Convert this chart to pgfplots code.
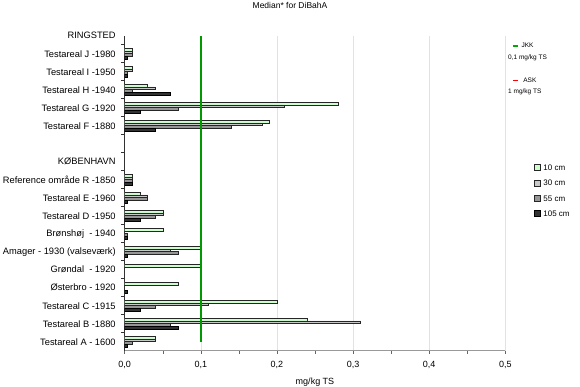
\documentclass[border=0pt]{standalone}
\usepackage{fontspec}
\setmainfont{Liberation Sans}
\usepackage{pgfplots}
\pgfplotsset{compat=1.18}
\definecolor{cTen}{HTML}{CCFFCC}
\definecolor{cThirty}{HTML}{C8C8C8}
\definecolor{cFiftyFive}{HTML}{969696}
\definecolor{cHundred}{HTML}{333333}
\definecolor{jkk}{RGB}{0,153,0}
\definecolor{gridc}{HTML}{E2E2E2}
\definecolor{axisc}{HTML}{999999}
\begin{document}
\begin{tikzpicture}
\path[use as bounding box] (-124.7pt,-36.3pt) rectangle (455.3pt,350.7pt);
\begin{axis}[
  at={(0pt,0pt)}, anchor=south west,
  scale only axis, width=380.6pt, height=315pt,
  xmin=0, xmax=0.5, ymin=-0.5, ymax=17,
  axis x line*=bottom, axis y line*=left,
  x axis line style={axisc, line width=1.3pt},
  y axis line style={black!80, line width=0.6pt},
  xtick={0,0.1,0.2,0.3,0.4,0.5},
  xticklabels={{0,0},{0,1},{0,2},{0,3},{0,4},{0,5}},
  minor xtick={0.05,0.15,0.25,0.35,0.45},
  ytick={0,...,17},
  yticklabels={Testareal A - 1600, Testareal B -1880, Testareal C -1915, Østerbro - 1920, Grøndal \ - 1920, Amager - 1930 (valseværk), Brønshøj \ - 1940, Testareal D -1950, Testareal E -1960, Reference område R -1850, KØBENHAVN, {}, Testareal F -1880, Testareal G -1920, Testareal H -1940, Testareal I -1950, Testareal J -1980, RINGSTED},
  minor ytick={0.5,1.5,2.5,3.5,4.5,5.5,6.5,7.5,8.5,9.5,10.5,11.5,12.5,13.5,14.5,15.5,16.5},
  tick align=outside,
  major tick length=3.5pt, minor tick length=3.5pt,
  major y tick style={draw=none},
  minor y tick style={black!80, line width=0.5pt},
  major x tick style={black!60, line width=0.5pt},
  minor x tick style={black!60, line width=0.5pt},
  xmajorgrids,
  major x grid style={gridc, line width=0.6pt},
  yticklabel style={font=\fontsize{9.3}{11}\selectfont, xshift=-2pt},
  xticklabel style={font=\fontsize{9}{11}\selectfont, yshift=-3pt},
  xlabel={mg/kg TS},
  xlabel style={font=\fontsize{9}{11}\selectfont, at={(axis description cs:0.5,0)}, anchor=center, yshift=-31pt},
  legend image code/.code={\draw[#1] (0pt,-3pt) rectangle (6pt,3pt); \path[draw=none,fill=none] (0pt,0pt) -- (9pt,0pt);},
  legend style={at={(1.0754,0.5927)}, anchor=north west, draw=none, fill=none,
    font=\fontsize{8}{9.6}\selectfont, inner sep=0pt, row sep=9pt,
    nodes={inner sep=0pt, text height=6pt, text depth=0pt}},
  legend cell align=left,
]
\addplot[xbar, bar width=2.7pt, bar shift=4.05pt, fill=cTen, draw=black!85, line width=0.4pt] coordinates {
(0.04,0) (0.24,1) (0.20,2) (0.07,3) (0.10,4) (0.10,5) (0.05,6) (0.05,7) (0.02,8) (0.01,9) (0.19,12) (0.28,13) (0.03,14) (0.01,15) (0.01,16)};
\addlegendentry{10 cm}
\addplot[xbar, bar width=2.7pt, bar shift=1.35pt, fill=cThirty, draw=black!85, line width=0.4pt] coordinates {
(0.04,0) (0.31,1) (0.11,2) (0.06,5) (0.05,7) (0.03,8) (0.01,9) (0.18,12) (0.21,13) (0.04,14) (0.01,15) (0.01,16)};
\addlegendentry{30 cm}
\addplot[xbar, bar width=2.7pt, bar shift=-1.35pt, fill=cFiftyFive, draw=black!85, line width=0.4pt] coordinates {
(0.01,0) (0.06,1) (0.04,2) (0.07,5) (0.003,6) (0.04,7) (0.03,8) (0.01,9) (0.14,12) (0.07,13) (0.01,14) (0.003,15) (0.01,16)};
\addlegendentry{55 cm}
\addplot[xbar, bar width=2.7pt, bar shift=-4.05pt, fill=cHundred, draw=black, line width=0.4pt] coordinates {
(0.003,0) (0.07,1) (0.02,2) (0.003,3) (0.003,5) (0.003,6) (0.02,7) (0.003,8) (0.01,9) (0.04,12) (0.02,13) (0.06,14) (0.003,15) (0.003,16)};
\addlegendentry{105 cm}
\addplot[jkk, line width=2.4pt, sharp plot, forget plot] coordinates {(0.1,0) (0.1,17)};
\end{axis}
\begin{axis}[
  at={(0pt,0pt)}, anchor=south west,
  scale only axis, width=380.6pt, height=315pt,
  xmin=0, xmax=0.5, ymin=-0.5, ymax=17,
  hide axis,
  legend image code/.code={\draw[#1] (0pt,0pt) -- (5pt,0pt); \path[draw=none,fill=none] (0pt,0pt) -- (8.7pt,0pt);},
  legend style={at={(1.0176,0.9786)}, anchor=north west, draw=none, fill=none,
    font=\fontsize{6.5}{7.5}\selectfont, inner sep=0pt, row sep=5pt,
    nodes={inner sep=0pt, text height=5pt, text depth=1.5pt}},
  legend cell align=left,
]
\addlegendimage{draw={rgb,255:red,0;green,170;blue,0}, line width=1.4pt}
\addlegendentry{JKK}
\addlegendimage{empty legend}
\addlegendentry{\hspace*{-13.4pt}0,1 mg/kg TS}
\addlegendimage{empty legend}
\addlegendentry{\phantom{x}}
\addlegendimage{draw=red, line width=1.4pt}
\addlegendentry{\ ASK}
\addlegendimage{empty legend}
\addlegendentry{\hspace*{-13.4pt}1 mg/kg TS}
\end{axis}
\node[font=\fontsize{8.5}{10}\selectfont] at (165.3pt,345.2pt) {Median* for DiBahA};
\end{tikzpicture}
\end{document}
